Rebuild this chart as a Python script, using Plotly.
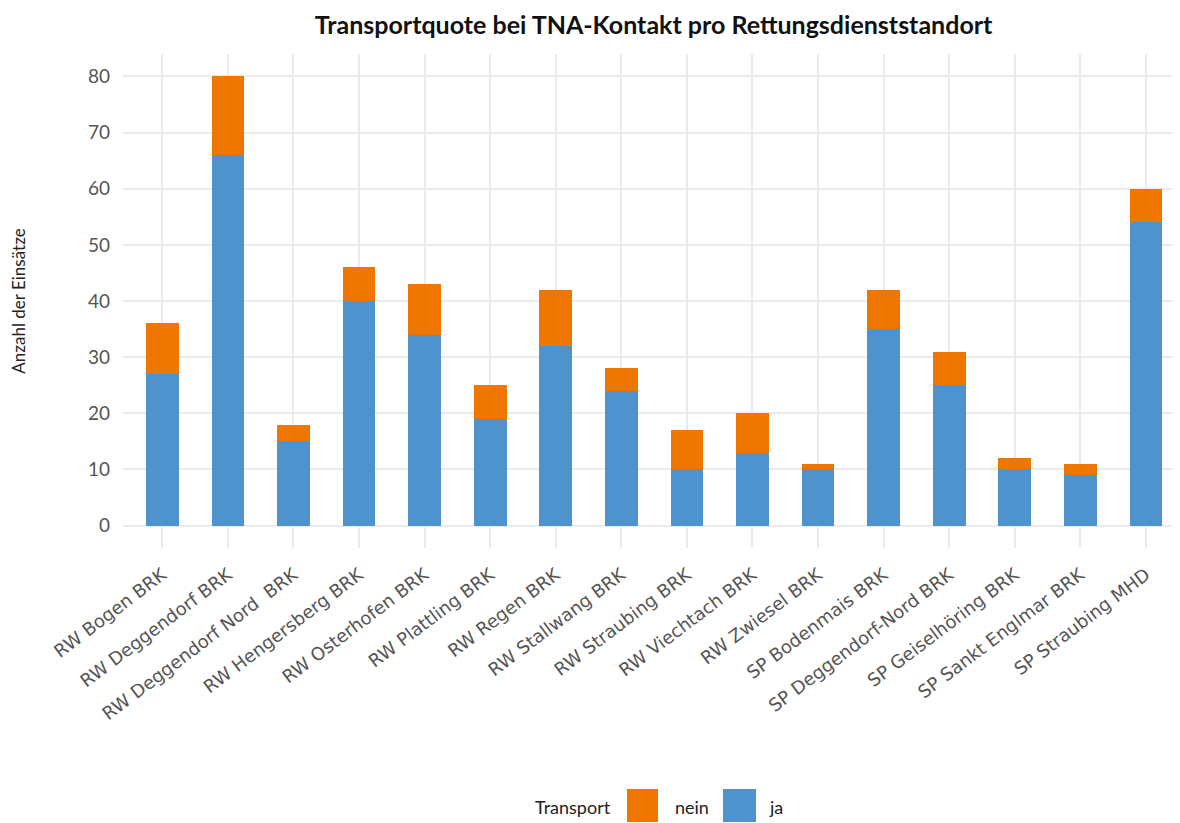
import plotly.graph_objects as go

standorte = [
    "RW Bogen BRK", "RW Deggendorf BRK", "RW Deggendorf Nord  BRK", "RW Hengersberg BRK",
    "RW Osterhofen BRK", "RW Plattling BRK", "RW Regen BRK", "RW Stallwang BRK",
    "RW Straubing BRK", "RW Viechtach BRK", "RW Zwiesel BRK", "SP Bodenmais BRK",
    "SP Deggendorf-Nord BRK", "SP Geiselhöring BRK", "SP Sankt Englmar BRK", "SP Straubing MHD",
]
ja = [27, 66, 15, 40, 34, 19, 32, 24, 10, 13, 10, 35, 25, 10, 9, 54]
nein = [9, 14, 3, 6, 9, 6, 10, 4, 7, 7, 1, 7, 6, 2, 2, 6]
y_ticks = [0, 10, 20, 30, 40, 50, 60, 70, 80]

BLUE = "#4E93CD"
ORANGE = "#EE7601"
FONT = "Lato, 'Noto Sans', sans-serif"

W, H = 1172, 815
ML, MR, MT, MB = 115, 0, 46, 275
PW, PH = W - ML - MR, H - MT - MB


def px(fx):
    return (fx - ML) / PW


def py(fy):
    return (H - MB - fy) / PH


xs = list(range(len(standorte)))
fig = go.Figure()
fig.add_trace(go.Bar(x=xs, y=ja, name="ja", showlegend=False,
                     marker=dict(color=BLUE, line=dict(width=0)), width=0.5))
fig.add_trace(go.Bar(x=xs, y=nein, name="nein", showlegend=False,
                     marker=dict(color=ORANGE, line=dict(width=0)), width=0.5))

# manual legend (large square keys as in the reference)
shapes = []
annotations = []
legend_items = [("nein", ORANGE, 619, 650, 665), ("ja", BLUE, 715, 748, 759)]
for label, col, x0, x1, tx in legend_items:
    shapes.append(dict(type="rect", xref="paper", yref="paper",
                       x0=px(x0), x1=px(x1), y0=py(781), y1=py(814),
                       fillcolor=col, line=dict(width=0), layer="above"))
    annotations.append(dict(text=label, xref="paper", yref="paper", x=px(tx), y=py(799),
                            xanchor="left", yanchor="middle", showarrow=False,
                            font=dict(size=18, color="#222222", family=FONT)))
annotations.append(dict(text="Transport", xref="paper", yref="paper", x=px(605), y=py(799),
                        xanchor="right", yanchor="middle", showarrow=False,
                        font=dict(size=18, color="#222222", family=FONT)))

fig.update_layout(
    barmode="stack",
    width=W, height=H,
    margin=dict(l=ML, r=MR, t=MT, b=MB),
    plot_bgcolor="white", paper_bgcolor="white",
    font=dict(family=FONT, color="#4d4d4d"),
    showlegend=False,
    title=dict(text="<b>Transportquote bei TNA-Kontakt pro Rettungsdienststandort</b>",
               x=0.502, xref="paper", xanchor="center", y=1 - 17 / H, yref="container",
               yanchor="middle", font=dict(size=25, color="#111111", family=FONT)),
    xaxis=dict(
        tickmode="array", tickvals=xs, ticktext=standorte,
        tickangle=-37, range=[-0.6, 15.52], showgrid=True, gridcolor="#ebebeb",
        gridwidth=1.5, zeroline=False, showline=False, ticks="",
        ticklabelstandoff=12,
        tickfont=dict(size=18, color="#555555", family="'DejaVu Sans', sans-serif"),
    ),
    yaxis=dict(
        tickmode="array", tickvals=y_ticks, range=[-4, 84], showgrid=True,
        gridcolor="#ebebeb", gridwidth=1.5, zeroline=False, showline=False, ticks="",
        tickfont=dict(size=19, color="#555555"), ticklabelstandoff=12,
        title=dict(text="Anzahl der Einsätze", font=dict(size=17, color="#222222"),
                   standoff=63),
    ),
    shapes=shapes,
    annotations=annotations,
    bargap=0.5,
)

fig.write_html("out.html")
